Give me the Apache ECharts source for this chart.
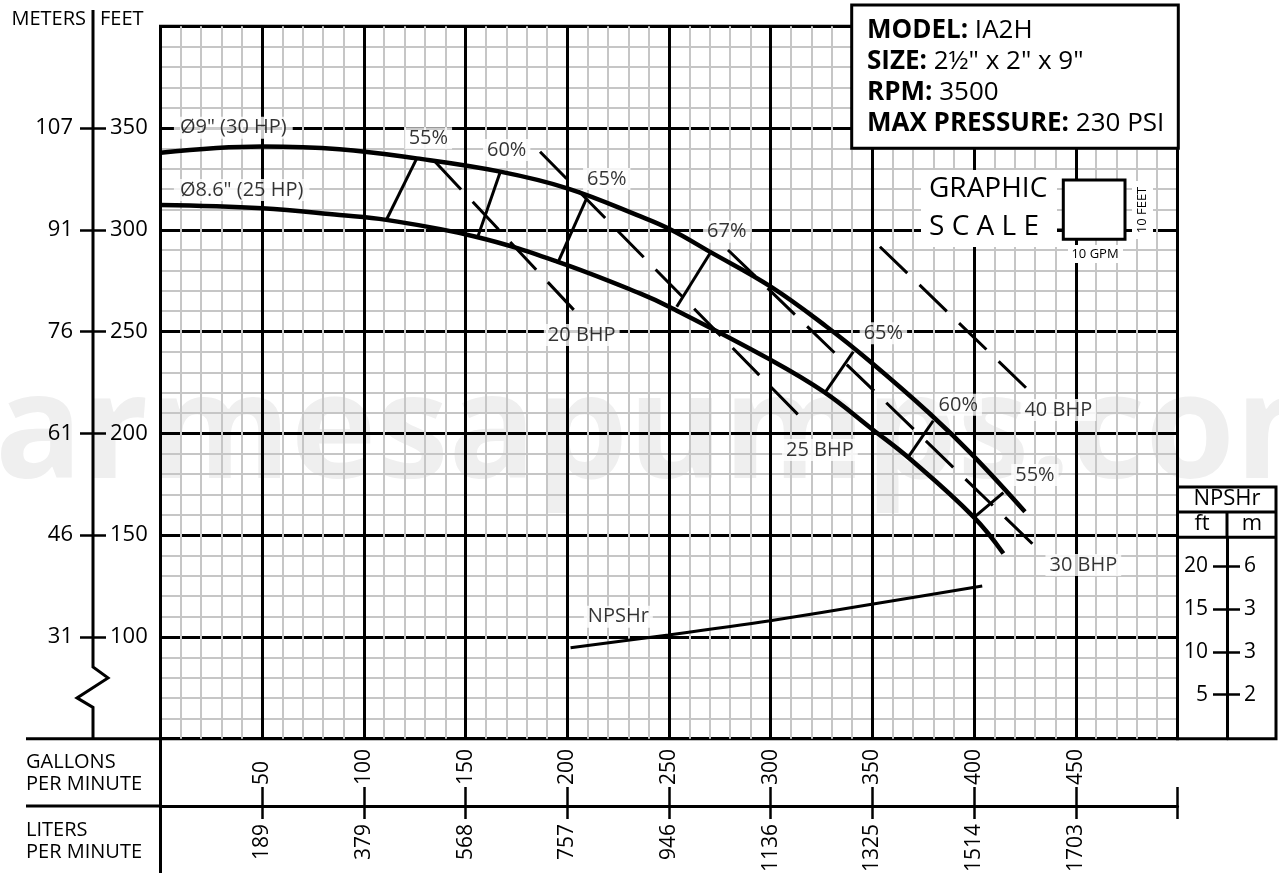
<!DOCTYPE html>
<html><head><meta charset="utf-8">
<script src="https://cdn.jsdelivr.net/npm/echarts@6/dist/echarts.min.js"></script>
<style>html,body{margin:0;padding:0;background:#fff}#c{width:1279px;height:875px}</style>
</head><body><div id="c"></div>
<script>
// ---------------- DATA ----------------
// Head-capacity curves: [GPM, head ft]
const impeller9 = [[0,337.9],[50,340.9],[88,339.6],[126,335.1],[167,328.6],[200,320.4],[236,306.6],[250.5,300.3],[270,289.3],[300,272.1],[327.5,252.4],[349,235.2],[378,209.9],[400,188.6],[425,161.5]];
const impeller86 = [[0,312.2],[50,310.6],[88,307.3],[111,304.9],[155,296.6],[195,284.4],[235.7,268.8],[250.5,262.0],[300,236.1],[326,220.5],[350.4,201.7],[368.4,187.5],[399.6,159.1],[414.4,141.0]];
// Efficiency tie lines: upper / lower end [GPM, ft]
const effNames = ['55%','60%','65%','67%','65%','60%','55%'];
const effUpper = [[126.0,335.1],[166.9,328.1],[209.5,315.5],[270.2,288.5],[340.6,240.1],[379.9,206.2],[414.4,170.9]];
const effLower = [[111.2,305.2],[155.9,296.3],[195.6,284.4],[253.8,262.2],[326.7,220.0],[367.7,188.5],[400.4,159.1]];
const effLabelAt = [[131.7,345.0],[170.2,339.2],[219.4,325.0],[278.4,299.1],[355.4,249.2],[392.2,214.0],[429.9,179.6]];
// Brake horsepower lines
const bhpNames = ['20 BHP','25 BHP','30 BHP','40 BHP'];
const bhpStart = [[135.0,333.5],[186.6,338.4],[279.0,290.1],[353.7,291.7]];
const bhpEnd = [[203.8,260.0],[316.9,205.7],[433.4,141.2],[427.5,220.5]];
const bhpLabelAt = [[207.1,248.3],[324.2,191.8],[453.7,135.3],[441.4,211.5]];
// Impeller labels
const curveNames = ['\u00d89" (30 HP)','\u00d88.6" (25 HP)'];
const curveLabelAt = [[35.8,350.2],[39.9,319.6]];
// NPSHr: [GPM, NPSHr ft]
const npshr = [[201.6,10.49],[249.7,11.98],[299.7,13.65],[350.4,15.60],[404,17.71]];
const npshrLabelAt = [[225.1,109.9]];
// Tick labels
const gpmTicks = [50,100,150,200,250,300,350,400,450];
const lpmLabels = ['189','379','568','757','946','1136','1325','1514','1703'];
const feetTicks = [100,150,200,250,300,350];
const meterLabels = ['31','46','61','76','91','107'];
const npshFtTicks = [5,10,15,20];
const npshMLabels = ['2','3','3','6'];
const infoLines = [['MODEL:','IA2H'],['SIZE:','2\u00bd" x 2" x 9"'],['RPM:','3500'],['MAX PRESSURE:','230 PSI']];

// ---------------- LAYOUT ----------------
const FONT = '"Open Sans","Noto Sans",sans-serif';
const G = {left:160.5, top:26.3, width:1017, height:712.4};
const NG = {left:1227, top:537.3, width:50, height:201.4};
const B = '#000';
const chart = echarts.init(document.getElementById('c'));

function annot(pts, names){ return pts.map((p,i)=>({value:p, name:names[i]})); }

const option = {
  animation:false,
  backgroundColor:'#fff',
  textStyle:{fontFamily:FONT, color:B},
  grid:[
    {left:G.left, top:G.top, width:G.width, height:G.height, show:true, borderColor:B, borderWidth:3, backgroundColor:'transparent'},
    {left:NG.left, top:NG.top, width:NG.width, height:NG.height, show:false}
  ],
  xAxis:[
    {gridIndex:0, type:'value', min:0, max:500, interval:50, position:'bottom',
     axisLine:{show:false,onZero:false}, axisTick:{show:false}, axisLabel:{show:false},
     minorTick:{show:false, splitNumber:5},
     splitLine:{show:true, lineStyle:{color:B, width:3}},
     minorSplitLine:{show:true, lineStyle:{color:'#c6c6c6', width:2}}},
    {gridIndex:0, type:'value', min:0, max:500, position:'bottom', offset:67.3,
     axisLine:{show:true, onZero:false, lineStyle:{color:B, width:3}},
     axisTick:{show:true, inside:true, length:19, lineStyle:{color:B, width:2.5}, customValues:gpmTicks.concat([500])},
     axisLabel:{show:true, inside:true, rotate:90, margin:21, fontSize:21, color:B, fontFamily:FONT, customValues:gpmTicks, formatter:v=>String(v)},
     splitLine:{show:false}},
    {gridIndex:0, type:'value', min:0, max:500, position:'bottom', offset:67.3,
     axisLine:{show:false, onZero:false},
     axisTick:{show:true, length:13, lineStyle:{color:B, width:2.5}, customValues:gpmTicks.concat([500])},
     axisLabel:{show:true, rotate:90, margin:18, fontSize:21, color:B, fontFamily:FONT, customValues:gpmTicks, formatter:v=>lpmLabels[gpmTicks.indexOf(v)]},
     splitLine:{show:false}},
    {gridIndex:1, type:'value', min:0, max:1, show:false}
  ],
  yAxis:[
    {gridIndex:0, type:'value', min:50, max:400, interval:50,
     axisLine:{show:false,onZero:false}, axisTick:{show:false}, axisLabel:{show:false},
     minorTick:{show:false, splitNumber:5},
     splitLine:{show:true, lineStyle:{color:B, width:3}},
     minorSplitLine:{show:true, lineStyle:{color:'#c6c6c6', width:2}}},
    {gridIndex:0, type:'value', min:-0.15, max:83.15, show:false},
    {gridIndex:0, type:'value', min:50, max:400, position:'left', offset:67.5,
     axisLine:{show:false,onZero:false}, splitLine:{show:false},
     axisTick:{show:true, length:13, lineStyle:{color:B, width:2.5}, customValues:feetTicks},
     axisLabel:{show:true, margin:20, fontSize:22, color:B, fontFamily:FONT, customValues:feetTicks, formatter:v=>meterLabels[feetTicks.indexOf(v)]}},
    {gridIndex:0, type:'value', min:50, max:400, position:'left', offset:67.5,
     axisLine:{show:false,onZero:false}, splitLine:{show:false},
     axisTick:{show:true, inside:true, length:13, lineStyle:{color:B, width:2.5}, customValues:feetTicks},
     axisLabel:{show:true, inside:true, margin:17, fontSize:22, color:B, fontFamily:FONT, customValues:feetTicks, formatter:v=>String(v)}},
    {gridIndex:1, type:'value', min:-0.15, max:23.4, position:'left',
     axisLine:{show:true,onZero:false, lineStyle:{color:B, width:3}}, splitLine:{show:false},
     axisTick:{show:true, length:14, lineStyle:{color:B, width:2.5}, customValues:npshFtTicks},
     axisLabel:{show:true, margin:19, fontSize:21, color:B, fontFamily:FONT, customValues:npshFtTicks, formatter:v=>String(v)}},
    {gridIndex:1, type:'value', min:-0.15, max:23.4, position:'left',
     axisLine:{show:false,onZero:false}, splitLine:{show:false},
     axisTick:{show:true, inside:true, length:13, lineStyle:{color:B, width:2.5}, customValues:npshFtTicks},
     axisLabel:{show:true, inside:true, margin:17, fontSize:21, color:B, fontFamily:FONT, customValues:npshFtTicks, formatter:v=>npshMLabels[npshFtTicks.indexOf(v)]}}
  ],
  series:[
    {type:'lines', coordinateSystem:'cartesian2d', xAxisIndex:0, yAxisIndex:0, silent:true, z:4,
     data: bhpStart.map((p,i)=>({coords:[p,bhpEnd[i]]})),
     lineStyle:{color:B, width:3, opacity:1, type:[38,17], curveness:0}},
    {type:'lines', coordinateSystem:'cartesian2d', xAxisIndex:0, yAxisIndex:0, silent:true, z:5,
     data: effUpper.map((p,i)=>({coords:[p,effLower[i]]})),
     lineStyle:{color:B, width:3, opacity:1, curveness:0}},
    {type:'line', xAxisIndex:0, yAxisIndex:0, data:impeller9, smooth:0.4, symbol:'none', silent:true, z:6,
     lineStyle:{color:B, width:4.5}},
    {type:'line', xAxisIndex:0, yAxisIndex:0, data:impeller86, smooth:0.4, symbol:'none', silent:true, z:6,
     lineStyle:{color:B, width:4.5}},
    {type:'line', xAxisIndex:0, yAxisIndex:1, data:npshr, smooth:0.3, symbol:'none', silent:true, z:6,
     lineStyle:{color:B, width:3}},
    {type:'scatter', xAxisIndex:0, yAxisIndex:0, symbolSize:0, silent:true, z:3,
     data: annot(effLabelAt,effNames).concat(annot(bhpLabelAt,bhpNames)).concat(annot(npshrLabelAt,['NPSHr'])),
     label:{show:true, position:'inside', formatter:p=>p.name, fontSize:20, color:B, fontFamily:FONT, backgroundColor:'#fff', padding:[1,4]}},
    {type:'scatter', xAxisIndex:0, yAxisIndex:0, symbolSize:0, silent:true, z:3,
     data: annot(curveLabelAt,curveNames),
     label:{show:true, position:'inside', formatter:p=>p.name, fontSize:20, color:B, fontFamily:FONT, backgroundColor:'#fff', padding:[1,6]}}
  ]
};
chart.setOption(option);

// ---------- decorations positioned from the axes ----------
const yPix = v => chart.convertToPixel({yAxisIndex:0}, v);
const axX = G.left - 67.5;           // meters|feet axis line
const y100 = yPix(100), yBot = G.top + G.height, yLpm = yBot + 67.3;
const line = (x1,y1,x2,y2,w,z)=>({type:'line', silent:true, z:z||10, shape:{x1,y1,x2,y2}, style:{stroke:B, lineWidth:w||3}});
const txt = (t,x,y,size,opt)=>({type:'text', silent:true, z:12, style:Object.assign({text:t, x, y, font:size+'px '+FONT, fill:B, align:'left', verticalAlign:'middle'}, opt||{})});

const graphics = [
  {type:'text', silent:true, z:-10, style:{text:'armesapumps.com', x:-5, y:437, font:'bold 145px '+FONT, fill:'#efefef', align:'left', verticalAlign:'middle'}},
  // left scale line with break
  {type:'polyline', silent:true, z:10, shape:{points:[[axX,10],[axX,y100+30],[axX+15,y100+41],[axX-16,y100+61],[axX,y100+70.5],[axX,yBot]]}, style:{stroke:B, lineWidth:3, fill:null}},
  txt('METERS', axX-7, 19, 20, {align:'right'}),
  txt('FEET', axX+7, 19, 20),
  // bottom frame extensions
  line(26, yBot, G.left, yBot),
  line(26, yLpm, G.left, yLpm),
  line(G.left, yBot, G.left, 873),
  txt('GALLONS', 26, 762, 20), txt('PER MINUTE', 26, 784, 20),
  txt('LITERS', 26, 830, 20), txt('PER MINUTE', 26, 852, 20),
  // model box
  {type:'rect', silent:true, z:10, shape:{x:851.7, y:5, width:326.6, height:143.3}, style:{fill:'#fff', stroke:B, lineWidth:3}},
];
infoLines.forEach((l,i)=>{
  graphics.push({type:'text', silent:true, z:12, style:{x:867, y:31+i*30.7, verticalAlign:'middle', align:'left',
    text:'{b|'+l[0]+' }{r|'+l[1]+'}', fill:B,
    rich:{b:{fontFamily:FONT, fontWeight:'bold', fontSize:26, fill:B}, r:{fontFamily:FONT, fontSize:26, fill:B}}}});
});
// graphic scale
graphics.push(
  {type:'rect', silent:true, z:10, shape:{x:921, y:170, width:136, height:77}, style:{fill:'#fff'}},
  txt('GRAPHIC', 929, 189, 28),
  txt('S C A L E', 929, 227, 28),
  line(1057, 230, 1063, 230),
  {type:'rect', silent:true, z:11, shape:{x:1063.3, y:180, width:61.7, height:59.3}, style:{fill:'#fff', stroke:B, lineWidth:3}},
  {type:'rect', silent:true, z:10, shape:{x:1132, y:181, width:21, height:58}, style:{fill:'#fff'}},
  {type:'text', silent:true, z:12, x:1142, y:210, rotation:Math.PI/2, style:{text:'10 FEET', x:0, y:0, font:'13px '+FONT, fill:B, align:'center', verticalAlign:'middle'}},
  {type:'rect', silent:true, z:10, shape:{x:1068, y:245, width:55, height:18}, style:{fill:'#fff'}},
  txt('10 GPM', 1095, 254, 13, {align:'center'})
);
// NPSHr box
const bx = G.left + G.width, bTop = 487;
graphics.push(
  {type:'rect', silent:true, z:9, shape:{x:bx, y:bTop, width:1276-bx, height:yBot-bTop}, style:{fill:null, stroke:B, lineWidth:3}},
  line(bx, 512, 1276, 512),
  line(bx, NG.top, 1276, NG.top),
  line(NG.left, 512, NG.left, NG.top),
  txt('NPSHr', 1227, 499, 22, {align:'center'}),
  txt('ft', 1202, 524, 22, {align:'center'}),
  txt('m', 1252, 524, 22, {align:'center'})
);
chart.setOption({graphic:{elements:graphics}});
</script></body></html>
